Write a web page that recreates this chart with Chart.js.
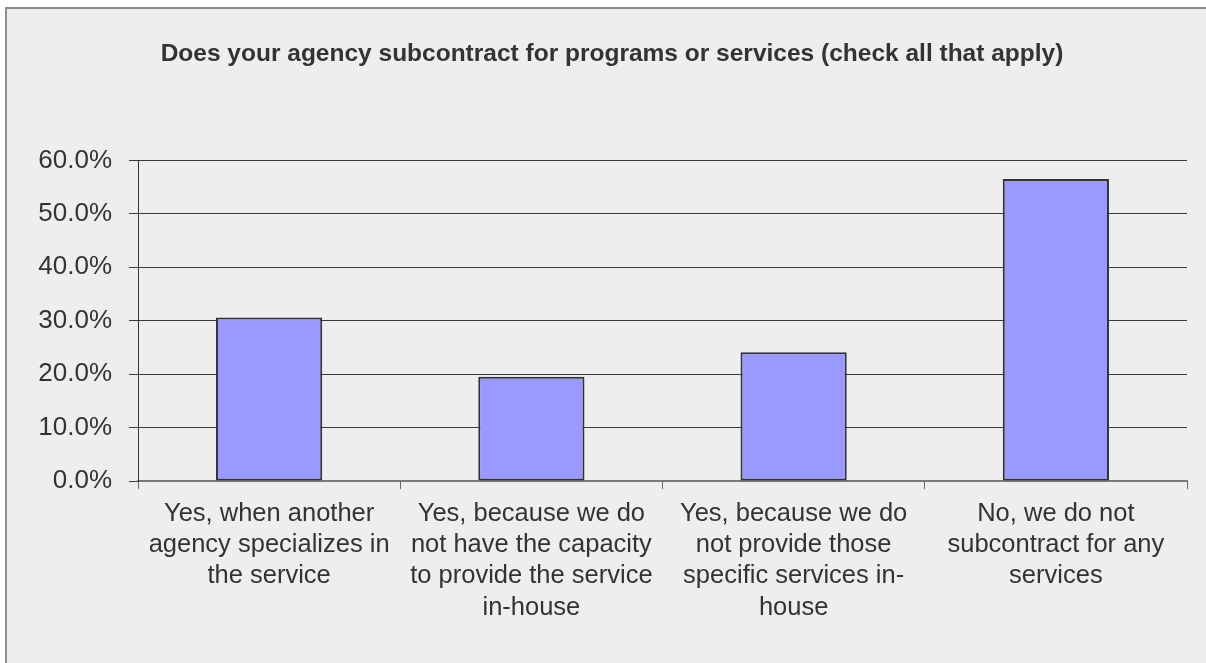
<!DOCTYPE html>
<html lang="en">
<head>
    <meta charset="UTF-8">
    <title>Subcontracting</title>
    <script src="https://cdn.jsdelivr.net/npm/chart.js"></script>
    <style>
        html, body { margin: 0; padding: 0; background: #ffffff; overflow: hidden; }
        .moldura {
            position: absolute; left: 5px; top: 7px; width: 1220px; height: 680px;
            background: #eeeeee; border-top: 2px solid #8c8c8c; border-left: 2px solid #8c8c8c;
        }
        .grafico { position: absolute; left: 0; top: 0; width: 1206px; height: 663px; }
    </style>
</head>
<body>
    <div class="moldura"></div>
    <div class="grafico"><canvas id="meuGrafico" width="1206" height="663"></canvas></div>

<script>
    var categorias = [
        ['Yes, when another', 'agency specializes in', 'the service'],
        ['Yes, because we do', 'not have the capacity', 'to provide the service', 'in-house'],
        ['Yes, because we do', 'not provide those', 'specific services in-', 'house'],
        ['No, we do not', 'subcontract for any', 'services']
    ];
    var percentuais = [30.6, 19.5, 24.1, 56.5];
    var titulo = 'Does your agency subcontract for programs or services (check all that apply)';

    var ctx = document.getElementById('meuGrafico').getContext('2d');

    new Chart(ctx, {
        type: 'bar',
        data: {
            labels: categorias,
            datasets: [{
                data: percentuais,
                backgroundColor: '#9999ff',
                borderColor: '#333333',
                borderWidth: 2,
                borderSkipped: false,
                barPercentage: 0.81,
                categoryPercentage: 0.5
            }]
        },
        options: {
            responsive: false,
            animation: false,
            // left padding only shifts the title centre; the y axis width below makes up for it
            layout: { padding: { left: 37, right: 19, top: 0, bottom: 0 } },
            plugins: {
                legend: { display: false },
                tooltip: { enabled: false },
                title: {
                    display: true,
                    text: titulo,
                    color: '#333333',
                    font: { family: 'Liberation Sans', size: 24.5, weight: 'bold' },
                    padding: { top: 40, bottom: 91 }
                }
            },
            scales: {
                x: {
                    afterFit: function (escala) { escala.height = 182; },
                    grid: { offset: true, drawOnChartArea: false, color: '#666666', tickLength: 8 },
                    border: { color: '#7a7a7a', width: 2 },
                    ticks: {
                        color: '#333333',
                        padding: 9,
                        maxRotation: 0,
                        autoSkip: false,
                        font: { family: 'Liberation Sans', size: 25.5, lineHeight: 1.23 }
                    }
                },
                y: {
                    min: 0,
                    max: 60,
                    afterFit: function (escala) { escala.width = 101; },
                    grid: { color: '#3a3a3a', tickLength: 9 },
                    border: { color: '#333333', width: 1 },
                    ticks: {
                        stepSize: 10,
                        color: '#333333',
                        padding: 17,
                        font: { family: 'Liberation Sans', size: 26 },
                        callback: function (v) { return v.toFixed(1) + '%'; }
                    }
                }
            }
        }
    });
</script>
</body>
</html>
